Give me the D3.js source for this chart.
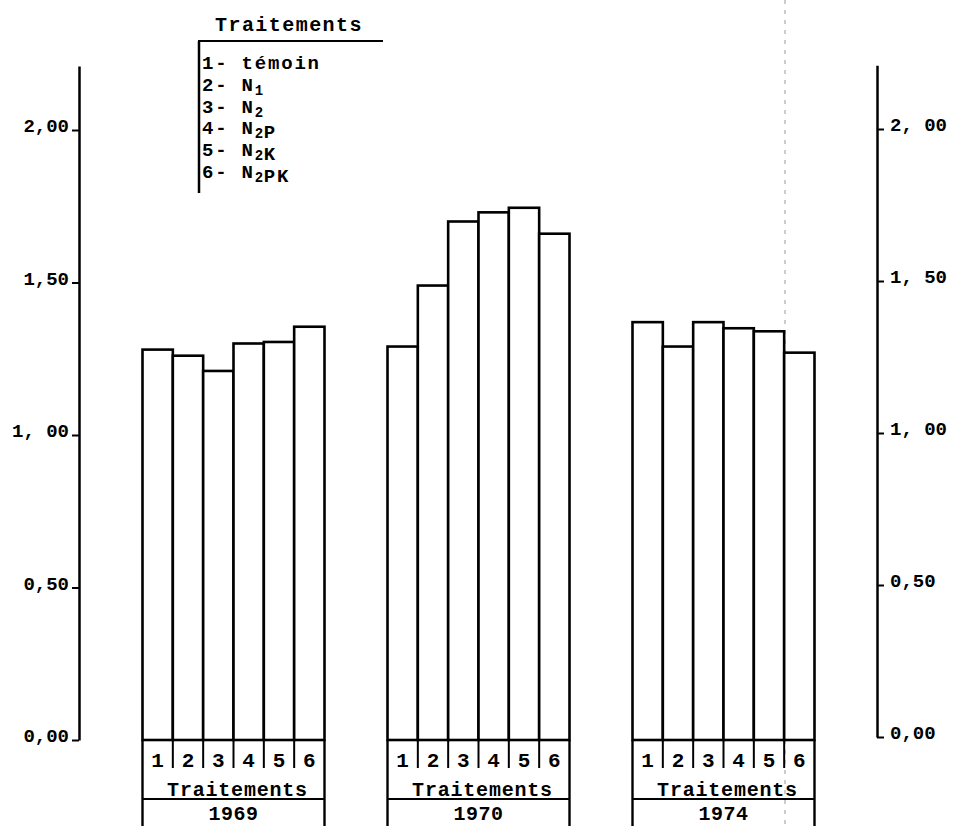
<!DOCTYPE html>
<html><head><meta charset="utf-8">
<script src="https://cdn.jsdelivr.net/npm/d3@7"></script>
<style>body{margin:0;background:#fff}svg{display:block}</style>
</head><body><svg id="c" width="953" height="826"></svg>
<script>
const years = ["1969", "1970", "1974"];
const treatments = ["1", "2", "3", "4", "5", "6"];
const values1969 = [1.28, 1.26, 1.21, 1.30, 1.305, 1.355];
const values1970 = [1.29, 1.49, 1.70, 1.73, 1.745, 1.66];
const values1974 = [1.37, 1.29, 1.37, 1.35, 1.34, 1.27];
const yTicks = [0, 0.5, 1, 1.5, 2];
const leftTickLabels = ["0,00", "0,50", "1, 00", "1,50", "2,00"];
const rightTickLabels = ["0,00", "0,50", "1, 00", "1, 50", "2, 00"];
const axisLabel = "Traitements";
const legendTitle = "Traitements";
const legendItems = ["1- témoin", "2- N₁", "3- N₂", "4- N₂P", "5- N₂K", "6- N₂PK"];

const series = {"1969": values1969, "1970": values1970, "1974": values1974};
const FONT = "'Liberation Mono','DejaVu Sans Mono',monospace";

const svg = d3.select("#c");
const W = 953, H = 826;
svg.append("rect").attr("width", W).attr("height", H).attr("fill", "#fff");

const x0 = d3.scaleBand().domain(years).range([142.5, 814.5]).paddingInner(63/245).paddingOuter(0);
const x1 = d3.scaleBand().domain(treatments).range([0, x0.bandwidth()]).padding(0);
const y = d3.scaleLinear().domain([0, 2.21]).range([740, 740 - 2.21 * 305]);
const yR = d3.scaleLinear().domain([0, 2.21]).range([737, 737 - 2.21 * 304]);

// faint scan fold line
svg.append("line").attr("x1", 785).attr("x2", 785).attr("y1", 0).attr("y2", H)
  .attr("stroke", "#999").attr("stroke-width", 1).attr("stroke-dasharray", "4,6");

// left axis
const gl = svg.append("g").attr("transform", "translate(79,0)")
  .call(d3.axisLeft(y).tickValues(yTicks).tickSize(7).tickSizeOuter(0).tickPadding(3)
    .tickFormat((d, i) => leftTickLabels[i]));
gl.select(".domain").attr("stroke-width", 2.5);
gl.selectAll(".tick line").attr("stroke-width", 2);
gl.selectAll(".tick text").attr("font-family", FONT).attr("font-size", 19).attr("font-weight", "bold")
  .attr("fill", "#000").attr("dy", "0.1em");

// right axis
const gr = svg.append("g").attr("transform", "translate(877,0)")
  .call(d3.axisRight(yR).tickValues(yTicks).tickSize(7).tickSizeOuter(0).tickPadding(6)
    .tickFormat((d, i) => rightTickLabels[i]));
gr.select(".domain").attr("stroke-width", 2.5);
gr.selectAll(".tick line").attr("stroke-width", 2);
gr.selectAll(".tick text").attr("font-family", FONT).attr("font-size", 19).attr("font-weight", "bold")
  .attr("fill", "#000").attr("dy", "0.1em");

// bars and tables
const rowNumBottom = 768, rowTrtBottom = 799;
years.forEach(yr => {
  const g = svg.append("g").attr("transform", `translate(${x0(yr)},0)`);
  const bw = x0.bandwidth();
  g.selectAll("rect.bar").data(series[yr]).join("rect").attr("class", "bar")
    .attr("x", (d, i) => x1(treatments[i]))
    .attr("y", d => y(d))
    .attr("width", x1.bandwidth())
    .attr("height", d => y(0) - y(d))
    .attr("fill", "#fff").attr("stroke", "#000").attr("stroke-width", 2.6);
  g.selectAll("line.div").data(treatments.slice(1)).join("line").attr("class", "div")
    .attr("x1", d => x1(d)).attr("x2", d => x1(d))
    .attr("y1", y(0)).attr("y2", rowNumBottom)
    .attr("stroke", "#000").attr("stroke-width", 2);
  [0, bw].forEach(xx => g.append("line").attr("x1", xx).attr("x2", xx)
    .attr("y1", y(0)).attr("y2", H).attr("stroke", "#000").attr("stroke-width", 2.4));
  [y(0), rowTrtBottom].forEach(yy => g.append("line").attr("x1", 0).attr("x2", bw)
    .attr("y1", yy).attr("y2", yy).attr("stroke", "#000").attr("stroke-width", 2.2));
  g.selectAll("text.num").data(treatments).join("text").attr("class", "num")
    .attr("x", d => x1(d) + x1.bandwidth() / 2).attr("y", 767)
    .attr("text-anchor", "middle").attr("font-family", FONT).attr("font-size", 21)
    .attr("font-weight", "bold").text(d => d);
  g.append("text").attr("x", bw / 2 + 4).attr("y", 796).attr("text-anchor", "middle")
    .attr("font-family", FONT).attr("font-size", 20).attr("letter-spacing", 0.8)
    .attr("font-weight", "bold").text(axisLabel);
  g.append("text").attr("x", bw / 2).attr("y", 820).attr("text-anchor", "middle")
    .attr("font-family", FONT).attr("font-size", 20).attr("letter-spacing", 0.5)
    .attr("font-weight", "bold").text(yr);
});

// legend
const lg = svg.append("g");
lg.append("text").attr("x", 289).attr("y", 31).attr("text-anchor", "middle")
  .attr("font-family", FONT).attr("font-size", 20).attr("letter-spacing", 1.45)
  .attr("font-weight", "bold").text(legendTitle);
lg.append("line").attr("x1", 198).attr("x2", 383).attr("y1", 41).attr("y2", 41)
  .attr("stroke", "#000").attr("stroke-width", 2);
lg.append("line").attr("x1", 199).attr("x2", 199).attr("y1", 41).attr("y2", 193)
  .attr("stroke", "#000").attr("stroke-width", 2.5);
const subMap = {"₁": "1", "₂": "2"};
legendItems.forEach((item, i) => {
  const t = lg.append("text").attr("x", 202).attr("y", 69 + i * 21.8)
    .attr("font-family", FONT).attr("font-size", 19).attr("letter-spacing", 1.8)
    .attr("font-weight", "bold");
  let buf = "";
  const flush = () => { if (buf) { t.append("tspan").text(buf); buf = ""; } };
  for (const ch of item) {
    if (subMap[ch]) {
      flush();
      t.append("tspan").attr("dy", 4).attr("font-size", 14).attr("letter-spacing", 0.5).text(subMap[ch]);
      t.append("tspan").attr("dy", -4).text("");
    } else buf += ch;
  }
  flush();
});
</script></body></html>
